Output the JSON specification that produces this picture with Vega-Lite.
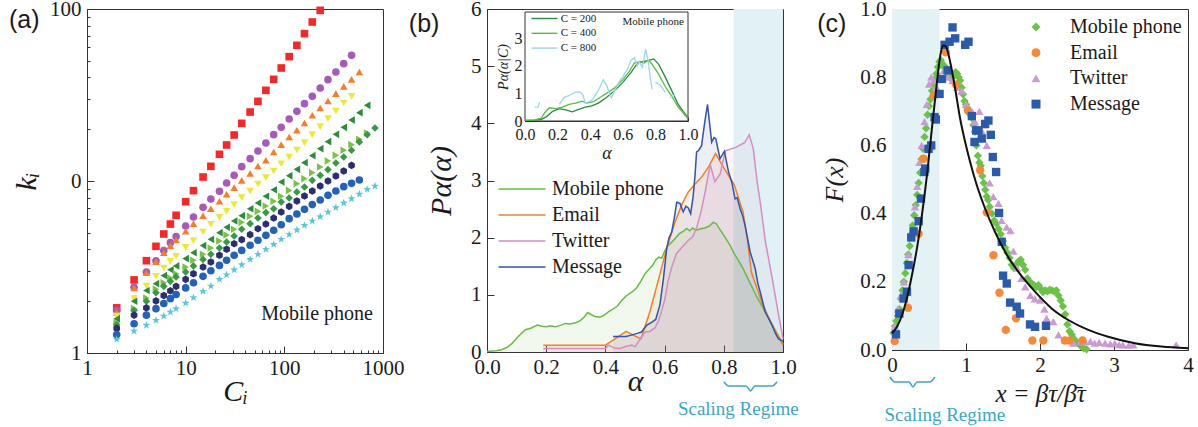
{
"$schema": "https://vega.github.io/schema/vega-lite/v6.json",
"background": "white",
"padding": {"left": 8, "top": -3, "right": 0, "bottom": 0},
"bounds": "flush",
"spacing": 104,
"config": {
  "font": "Liberation Serif",
  "view": {"stroke": "#333", "strokeWidth": 1},
  "axis": {"grid": false, "domainColor": "#333", "tickColor": "#333", "tickSize": -7, "labelFont": "Liberation Serif", "labelFontSize": 21, "labelColor": "#1a1a1a", "labelFlush": false, "labelOverlap": false, "titleFont": "Liberation Serif", "titleFontStyle": "italic", "titleFontWeight": "normal", "titleFontSize": 30, "titleColor": "#1a1a1a", "labelPadding": 11},
  "legend": {"labelFont": "Liberation Serif", "labelColor": "#1a1a1a"},
  "text": {"font": "Liberation Serif", "color": "#1a1a1a"}
},
"datasets": {
  "awide": [
    {"C":2,"s1":1.83,"s2":1.77,"s3":1.72,"s4":1.64,"s5":1.58,"s6":1.5,"s7":1.46,"s8":1.39,"s9":1.28,"s10":1.2},
    {"C":3,"s1":2.66,"s2":2.41,"s3":2.39,"s4":2.07,"s5":2.0,"s6":1.81,"s7":1.77,"s8":1.66,"s9":1.48,"s10":1.34},
    {"C":4,"s1":3.44,"s2":2.96,"s3":2.93,"s4":2.45,"s5":2.31,"s6":2.09,"s7":2.0,"s8":1.83,"s9":1.66,"s10":1.45},
    {"C":5,"s1":4.17,"s2":3.44,"s3":3.4,"s4":2.79,"s5":2.53,"s6":2.35,"s7":2.24,"s8":2.01,"s9":1.81,"s10":1.55},
    {"C":6,"s1":4.92,"s2":3.94,"s3":3.83,"s4":3.12,"s5":2.82,"s6":2.56,"s7":2.44,"s8":2.16,"s9":1.94,"s10":1.64},
    {"C":7,"s1":5.62,"s2":4.38,"s3":4.21,"s4":3.41,"s5":3.05,"s6":2.73,"s7":2.61,"s8":2.3,"s9":2.07,"s10":1.73},
    {"C":8,"s1":6.32,"s2":4.75,"s3":4.54,"s4":3.65,"s5":3.21,"s6":2.89,"s7":2.77,"s8":2.44,"s9":2.19,"s10":1.81},
    {"C":10,"s1":7.58,"s2":5.47,"s3":5.1,"s4":4.11,"s5":3.54,"s6":3.16,"s7":2.96,"s8":2.68,"s9":2.39,"s10":1.95},
    {"C":12,"s1":8.79,"s2":6.18,"s3":5.65,"s4":4.5,"s5":3.83,"s6":3.46,"s7":3.21,"s8":2.89,"s9":2.56,"s10":2.1},
    {"C":15,"s1":10.55,"s2":7.03,"s3":6.29,"s4":5.05,"s5":4.21,"s6":3.75,"s7":3.5,"s8":3.16,"s9":2.79,"s10":2.28},
    {"C":18,"s1":12.17,"s2":7.86,"s3":6.9,"s4":5.6,"s5":4.58,"s6":4.08,"s7":3.75,"s8":3.38,"s9":3.01,"s10":2.45},
    {"C":22,"s1":14.29,"s2":8.71,"s3":7.62,"s4":6.15,"s5":5.01,"s6":4.48,"s7":4.08,"s8":3.7,"s9":3.23,"s10":2.68},
    {"C":26,"s1":16.19,"s2":9.74,"s3":8.37,"s4":6.66,"s5":5.38,"s6":4.85,"s7":4.42,"s8":4.01,"s9":3.46,"s10":2.85},
    {"C":31,"s1":18.51,"s2":10.79,"s3":9.15,"s4":7.29,"s5":5.85,"s6":5.24,"s7":4.79,"s8":4.32,"s9":3.7,"s10":3.05},
    {"C":37,"s1":21.64,"s2":12.12,"s3":10.09,"s4":8.0,"s5":6.29,"s6":5.75,"s7":5.24,"s8":4.56,"s9":3.95,"s10":3.26},
    {"C":45,"s1":25.18,"s2":13.49,"s3":11.08,"s4":8.75,"s5":6.9,"s6":6.23,"s7":5.65,"s8":4.88,"s9":4.23,"s10":3.5},
    {"C":54,"s1":29.05,"s2":14.94,"s3":12.23,"s4":9.61,"s5":7.45,"s6":6.66,"s7":6.09,"s8":5.28,"s9":4.52,"s10":3.75},
    {"C":65,"s1":33.66,"s2":16.63,"s3":13.19,"s4":10.46,"s5":8.15,"s6":7.16,"s7":6.55,"s8":5.62,"s9":4.83,"s10":4.01},
    {"C":78,"s1":39.0,"s2":18.6,"s3":14.75,"s4":11.43,"s5":8.9,"s6":7.62,"s7":6.9,"s8":6.09,"s9":5.17,"s10":4.28},
    {"C":93,"s1":45.39,"s2":20.51,"s3":16.27,"s4":12.61,"s5":9.87,"s6":8.15,"s7":7.55,"s8":6.6,"s9":5.57,"s10":4.58},
    {"C":112,"s1":52.84,"s2":22.94,"s3":18.03,"s4":13.79,"s5":10.74,"s6":8.82,"s7":7.96,"s8":7.12,"s9":6.04,"s10":4.88},
    {"C":134,"s1":61.5,"s2":25.41,"s3":19.71,"s4":15.14,"s5":11.69,"s6":9.65,"s7":8.63,"s8":7.65,"s9":6.43,"s10":5.19},
    {"C":160,"s1":71.89,"s2":28.16,"s3":21.74,"s4":16.71,"s5":12.78,"s6":10.32,"s7":9.23,"s8":8.18,"s9":6.84,"s10":5.52},
    {"C":192,"s1":84.03,"s2":31.06,"s3":24.09,"s4":18.6,"s5":14.04,"s6":11.18,"s7":10.09,"s8":8.75,"s9":7.29,"s10":5.85},
    {"C":231,"s1":98.2,"s2":34.73,"s3":26.57,"s4":20.7,"s5":15.42,"s6":12.06,"s7":10.79,"s8":9.35,"s9":7.75,"s10":6.2},
    {"C":277,"s2":38.83,"s3":29.18,"s4":23.04,"s5":16.93,"s6":13.07,"s7":11.64,"s8":10.0,"s9":8.25,"s10":6.6},
    {"C":333,"s2":43.03,"s3":32.2,"s4":25.53,"s5":18.67,"s6":14.1,"s7":12.73,"s8":10.69,"s9":8.75,"s10":7.0},
    {"C":400,"s2":48.11,"s3":35.51,"s4":28.41,"s5":20.51,"s6":15.08,"s7":13.79,"s8":11.43,"s9":9.27,"s10":7.45},
    {"C":480,"s2":53.78,"s3":39.0,"s4":31.06,"s5":22.63,"s6":16.27,"s7":15.08,"s8":12.33,"s9":9.69,"s10":7.89},
    {"C":576,"s3":43.03,"s5":24.96,"s6":17.47,"s7":16.86,"s9":10.13,"s10":8.4},
    {"C":691,"s5":27.54,"s6":19.02,"s7":18.6,"s10":8.94},
    {"C":829,"s7":20.33,"s10":9.35}
  ],
  "bmain": [
    {"n":"Mobile phone","a":0,"p":0.01},{"n":"Mobile phone","a":0.03,"p":0.02},{"n":"Mobile phone","a":0.05,"p":0.04},{"n":"Mobile phone","a":0.07,"p":0.09},{"n":"Mobile phone","a":0.085,"p":0.15},{"n":"Mobile phone","a":0.1,"p":0.24},{"n":"Mobile phone","a":0.115,"p":0.32},{"n":"Mobile phone","a":0.13,"p":0.39},{"n":"Mobile phone","a":0.15,"p":0.42},{"n":"Mobile phone","a":0.17,"p":0.47},{"n":"Mobile phone","a":0.185,"p":0.45},{"n":"Mobile phone","a":0.2,"p":0.44},{"n":"Mobile phone","a":0.215,"p":0.46},{"n":"Mobile phone","a":0.23,"p":0.44},{"n":"Mobile phone","a":0.25,"p":0.47},{"n":"Mobile phone","a":0.265,"p":0.5},{"n":"Mobile phone","a":0.28,"p":0.49},{"n":"Mobile phone","a":0.3,"p":0.51},{"n":"Mobile phone","a":0.315,"p":0.55},{"n":"Mobile phone","a":0.33,"p":0.62},{"n":"Mobile phone","a":0.34,"p":0.69},{"n":"Mobile phone","a":0.35,"p":0.66},{"n":"Mobile phone","a":0.365,"p":0.62},{"n":"Mobile phone","a":0.38,"p":0.61},{"n":"Mobile phone","a":0.395,"p":0.64},{"n":"Mobile phone","a":0.41,"p":0.7},{"n":"Mobile phone","a":0.425,"p":0.75},{"n":"Mobile phone","a":0.44,"p":0.8},{"n":"Mobile phone","a":0.455,"p":0.9},{"n":"Mobile phone","a":0.47,"p":0.98},{"n":"Mobile phone","a":0.49,"p":1.05},{"n":"Mobile phone","a":0.505,"p":1.12},{"n":"Mobile phone","a":0.52,"p":1.24},{"n":"Mobile phone","a":0.535,"p":1.38},{"n":"Mobile phone","a":0.55,"p":1.46},{"n":"Mobile phone","a":0.56,"p":1.52},{"n":"Mobile phone","a":0.57,"p":1.61},{"n":"Mobile phone","a":0.58,"p":1.66},{"n":"Mobile phone","a":0.59,"p":1.64},{"n":"Mobile phone","a":0.6,"p":1.76},{"n":"Mobile phone","a":0.61,"p":1.85},{"n":"Mobile phone","a":0.62,"p":1.9},{"n":"Mobile phone","a":0.635,"p":1.98},{"n":"Mobile phone","a":0.65,"p":2.07},{"n":"Mobile phone","a":0.665,"p":2.12},{"n":"Mobile phone","a":0.675,"p":2.16},{"n":"Mobile phone","a":0.685,"p":2.12},{"n":"Mobile phone","a":0.695,"p":2.17},{"n":"Mobile phone","a":0.705,"p":2.13},{"n":"Mobile phone","a":0.72,"p":2.15},{"n":"Mobile phone","a":0.735,"p":2.17},{"n":"Mobile phone","a":0.75,"p":2.2},{"n":"Mobile phone","a":0.765,"p":2.27},{"n":"Mobile phone","a":0.775,"p":2.24},{"n":"Mobile phone","a":0.79,"p":2.12},{"n":"Mobile phone","a":0.805,"p":2.0},{"n":"Mobile phone","a":0.82,"p":1.88},{"n":"Mobile phone","a":0.835,"p":1.72},{"n":"Mobile phone","a":0.85,"p":1.6},{"n":"Mobile phone","a":0.865,"p":1.46},{"n":"Mobile phone","a":0.88,"p":1.3},{"n":"Mobile phone","a":0.895,"p":1.14},{"n":"Mobile phone","a":0.91,"p":0.98},{"n":"Mobile phone","a":0.925,"p":0.84},{"n":"Mobile phone","a":0.94,"p":0.7},{"n":"Mobile phone","a":0.955,"p":0.56},{"n":"Mobile phone","a":0.97,"p":0.42},{"n":"Mobile phone","a":0.985,"p":0.28},{"n":"Mobile phone","a":1.0,"p":0.14},
    {"n":"Email","a":0.19,"p":0.12},{"n":"Email","a":0.4,"p":0.12},{"n":"Email","a":0.43,"p":0.22},{"n":"Email","a":0.47,"p":0.36},{"n":"Email","a":0.5,"p":0.28},{"n":"Email","a":0.52,"p":0.23},{"n":"Email","a":0.55,"p":0.7},{"n":"Email","a":0.58,"p":1.28},{"n":"Email","a":0.607,"p":1.81},{"n":"Email","a":0.635,"p":2.27},{"n":"Email","a":0.66,"p":2.6},{"n":"Email","a":0.68,"p":2.8},{"n":"Email","a":0.7,"p":2.92},{"n":"Email","a":0.725,"p":3.06},{"n":"Email","a":0.75,"p":3.25},{"n":"Email","a":0.772,"p":3.47},{"n":"Email","a":0.8,"p":3.22},{"n":"Email","a":0.835,"p":2.93},{"n":"Email","a":0.865,"p":2.45},{"n":"Email","a":0.88,"p":1.95},{"n":"Email","a":0.893,"p":1.4},{"n":"Email","a":0.93,"p":0.85},{"n":"Email","a":0.963,"p":0.47},{"n":"Email","a":1.0,"p":0.12},
    {"n":"Twitter","a":0.19,"p":0.06},{"n":"Twitter","a":0.4,"p":0.06},{"n":"Twitter","a":0.41,"p":0.12},{"n":"Twitter","a":0.43,"p":0.07},{"n":"Twitter","a":0.45,"p":0.06},{"n":"Twitter","a":0.47,"p":0.1},{"n":"Twitter","a":0.49,"p":0.12},{"n":"Twitter","a":0.5,"p":0.09},{"n":"Twitter","a":0.52,"p":0.25},{"n":"Twitter","a":0.535,"p":0.35},{"n":"Twitter","a":0.55,"p":0.36},{"n":"Twitter","a":0.567,"p":0.42},{"n":"Twitter","a":0.58,"p":0.55},{"n":"Twitter","a":0.59,"p":0.72},{"n":"Twitter","a":0.6,"p":0.9},{"n":"Twitter","a":0.612,"p":1.25},{"n":"Twitter","a":0.625,"p":1.5},{"n":"Twitter","a":0.64,"p":1.72},{"n":"Twitter","a":0.66,"p":1.84},{"n":"Twitter","a":0.68,"p":1.95},{"n":"Twitter","a":0.695,"p":2.02},{"n":"Twitter","a":0.71,"p":2.2},{"n":"Twitter","a":0.725,"p":2.5},{"n":"Twitter","a":0.737,"p":2.8},{"n":"Twitter","a":0.754,"p":3.28},{"n":"Twitter","a":0.77,"p":2.98},{"n":"Twitter","a":0.788,"p":3.12},{"n":"Twitter","a":0.805,"p":3.52},{"n":"Twitter","a":0.84,"p":3.58},{"n":"Twitter","a":0.87,"p":3.66},{"n":"Twitter","a":0.886,"p":3.8},{"n":"Twitter","a":0.9,"p":3.55},{"n":"Twitter","a":0.912,"p":3.0},{"n":"Twitter","a":0.925,"p":2.55},{"n":"Twitter","a":0.94,"p":1.95},{"n":"Twitter","a":0.963,"p":1.3},{"n":"Twitter","a":0.985,"p":0.65},{"n":"Twitter","a":1.0,"p":0.23},
    {"n":"Message","a":0.426,"p":0.27},{"n":"Message","a":0.45,"p":0.27},{"n":"Message","a":0.47,"p":0.27},{"n":"Message","a":0.49,"p":0.3},{"n":"Message","a":0.51,"p":0.33},{"n":"Message","a":0.522,"p":0.35},{"n":"Message","a":0.54,"p":0.47},{"n":"Message","a":0.556,"p":0.52},{"n":"Message","a":0.57,"p":0.57},{"n":"Message","a":0.584,"p":0.82},{"n":"Message","a":0.596,"p":1.28},{"n":"Message","a":0.607,"p":1.81},{"n":"Message","a":0.615,"p":2.0},{"n":"Message","a":0.624,"p":2.1},{"n":"Message","a":0.633,"p":2.35},{"n":"Message","a":0.641,"p":2.62},{"n":"Message","a":0.652,"p":2.6},{"n":"Message","a":0.663,"p":2.45},{"n":"Message","a":0.672,"p":2.55},{"n":"Message","a":0.68,"p":2.52},{"n":"Message","a":0.688,"p":2.42},{"n":"Message","a":0.696,"p":2.7},{"n":"Message","a":0.703,"p":3.1},{"n":"Message","a":0.708,"p":3.5},{"n":"Message","a":0.714,"p":3.52},{"n":"Message","a":0.725,"p":3.61},{"n":"Message","a":0.735,"p":4.0},{"n":"Message","a":0.745,"p":4.33},{"n":"Message","a":0.752,"p":4.0},{"n":"Message","a":0.759,"p":3.67},{"n":"Message","a":0.767,"p":3.75},{"n":"Message","a":0.773,"p":3.73},{"n":"Message","a":0.787,"p":3.38},{"n":"Message","a":0.802,"p":3.51},{"n":"Message","a":0.816,"p":3.15},{"n":"Message","a":0.827,"p":2.97},{"n":"Message","a":0.838,"p":2.68},{"n":"Message","a":0.845,"p":2.7},{"n":"Message","a":0.855,"p":2.51},{"n":"Message","a":0.864,"p":2.38},{"n":"Message","a":0.872,"p":2.21},{"n":"Message","a":0.889,"p":1.75},{"n":"Message","a":0.906,"p":1.46},{"n":"Message","a":0.915,"p":1.2},{"n":"Message","a":0.923,"p":1.05},{"n":"Message","a":0.94,"p":0.7},{"n":"Message","a":0.963,"p":0.47},{"n":"Message","a":0.975,"p":0.32},{"n":"Message","a":0.985,"p":0.23},{"n":"Message","a":1.0,"p":0.19}
  ],
  "binset": [
    {"C":"C = 200","seg":"a","a":0,"p":0.02},{"C":"C = 200","seg":"a","a":0.06,"p":0.03},{"C":"C = 200","seg":"a","a":0.1,"p":0.06},{"C":"C = 200","seg":"a","a":0.13,"p":0.15},{"C":"C = 200","seg":"a","a":0.17,"p":0.35},{"C":"C = 200","seg":"a","a":0.21,"p":0.45},{"C":"C = 200","seg":"a","a":0.25,"p":0.4},{"C":"C = 200","seg":"a","a":0.29,"p":0.33},{"C":"C = 200","seg":"a","a":0.33,"p":0.42},{"C":"C = 200","seg":"a","a":0.37,"p":0.5},{"C":"C = 200","seg":"a","a":0.41,"p":0.55},{"C":"C = 200","seg":"a","a":0.45,"p":0.65},{"C":"C = 200","seg":"a","a":0.5,"p":0.85},{"C":"C = 200","seg":"a","a":0.55,"p":1.1},{"C":"C = 200","seg":"a","a":0.6,"p":1.4},{"C":"C = 200","seg":"a","a":0.65,"p":1.75},{"C":"C = 200","seg":"a","a":0.69,"p":2.1},{"C":"C = 200","seg":"a","a":0.72,"p":2.15},{"C":"C = 200","seg":"a","a":0.76,"p":2.2},{"C":"C = 200","seg":"a","a":0.79,"p":2.25},{"C":"C = 200","seg":"a","a":0.82,"p":2.05},{"C":"C = 200","seg":"a","a":0.86,"p":1.6},{"C":"C = 200","seg":"a","a":0.9,"p":1.1},{"C":"C = 200","seg":"a","a":0.94,"p":0.6},{"C":"C = 200","seg":"a","a":0.97,"p":0.35},{"C":"C = 200","seg":"a","a":1.0,"p":0.12},
    {"C":"C = 400","seg":"a","a":0,"p":0.02},{"C":"C = 400","seg":"a","a":0.06,"p":0.04},{"C":"C = 400","seg":"a","a":0.1,"p":0.1},{"C":"C = 400","seg":"a","a":0.12,"p":0.3},{"C":"C = 400","seg":"a","a":0.15,"p":0.48},{"C":"C = 400","seg":"a","a":0.19,"p":0.45},{"C":"C = 400","seg":"a","a":0.23,"p":0.5},{"C":"C = 400","seg":"a","a":0.27,"p":0.6},{"C":"C = 400","seg":"a","a":0.31,"p":0.65},{"C":"C = 400","seg":"a","a":0.35,"p":0.72},{"C":"C = 400","seg":"a","a":0.38,"p":0.65},{"C":"C = 400","seg":"a","a":0.42,"p":0.7},{"C":"C = 400","seg":"a","a":0.46,"p":0.85},{"C":"C = 400","seg":"a","a":0.5,"p":1.0},{"C":"C = 400","seg":"a","a":0.55,"p":1.2},{"C":"C = 400","seg":"a","a":0.6,"p":1.5},{"C":"C = 400","seg":"a","a":0.64,"p":1.8},{"C":"C = 400","seg":"a","a":0.67,"p":2.1},{"C":"C = 400","seg":"a","a":0.7,"p":2.15},{"C":"C = 400","seg":"a","a":0.73,"p":2.1},{"C":"C = 400","seg":"a","a":0.76,"p":2.2},{"C":"C = 400","seg":"a","a":0.78,"p":2.05},{"C":"C = 400","seg":"a","a":0.82,"p":1.7},{"C":"C = 400","seg":"a","a":0.86,"p":1.25},{"C":"C = 400","seg":"a","a":0.9,"p":0.9},{"C":"C = 400","seg":"a","a":0.94,"p":0.5},{"C":"C = 400","seg":"a","a":0.97,"p":0.3},{"C":"C = 400","seg":"a","a":1.0,"p":0.08},
    {"C":"C = 800","seg":"a","a":0.06,"p":0.5},{"C":"C = 800","seg":"a","a":0.08,"p":0.5},{"C":"C = 800","seg":"a","a":0.09,"p":0.68},
    {"C":"C = 800","seg":"b","a":0.21,"p":0.6},{"C":"C = 800","seg":"b","a":0.24,"p":0.85},{"C":"C = 800","seg":"b","a":0.28,"p":0.95},{"C":"C = 800","seg":"b","a":0.31,"p":1.05},{"C":"C = 800","seg":"b","a":0.34,"p":1.05},{"C":"C = 800","seg":"b","a":0.355,"p":0.95},{"C":"C = 800","seg":"b","a":0.37,"p":0.65},{"C":"C = 800","seg":"b","a":0.41,"p":0.75},{"C":"C = 800","seg":"b","a":0.45,"p":1.1},{"C":"C = 800","seg":"b","a":0.48,"p":1.5},{"C":"C = 800","seg":"b","a":0.5,"p":1.3},{"C":"C = 800","seg":"b","a":0.52,"p":0.95},{"C":"C = 800","seg":"b","a":0.53,"p":0.85},{"C":"C = 800","seg":"b","a":0.55,"p":1.1},{"C":"C = 800","seg":"b","a":0.58,"p":1.45},{"C":"C = 800","seg":"b","a":0.6,"p":1.6},{"C":"C = 800","seg":"b","a":0.63,"p":1.9},{"C":"C = 800","seg":"b","a":0.65,"p":2.2},{"C":"C = 800","seg":"b","a":0.67,"p":2.3},{"C":"C = 800","seg":"b","a":0.69,"p":2.0},{"C":"C = 800","seg":"b","a":0.7,"p":2.15},{"C":"C = 800","seg":"b","a":0.72,"p":1.95},{"C":"C = 800","seg":"b","a":0.74,"p":2.6},{"C":"C = 800","seg":"b","a":0.755,"p":2.2},{"C":"C = 800","seg":"b","a":0.77,"p":1.5},{"C":"C = 800","seg":"b","a":0.78,"p":1.15},
    {"C":"C = 800","seg":"c","a":0.8,"p":1.4},{"C":"C = 800","seg":"c","a":0.83,"p":1.3},{"C":"C = 800","seg":"c","a":0.86,"p":1.05},
    {"C":"C = 800","seg":"d","a":0.89,"p":0.85},{"C":"C = 800","seg":"d","a":0.92,"p":0.95}
  ],
  "braceb": [{"a":0.8,"p":-0.52},{"a":0.817,"p":-0.594},{"a":0.875,"p":-0.594},{"a":0.89,"p":-0.68},{"a":0.905,"p":-0.594},{"a":0.963,"p":-0.594},{"a":0.98,"p":-0.52}],
  "bracec": [{"x":-0.027,"y":-0.079},{"x":0.04,"y":-0.094},{"x":0.23,"y":-0.094},{"x":0.283,"y":-0.108},{"x":0.337,"y":-0.094},{"x":0.51,"y":-0.094},{"x":0.58,"y":-0.079}],
  "ccurve": [{"x":0,"y":0.049},{"x":0.067,"y":0.068},{"x":0.135,"y":0.102},{"x":0.2,"y":0.15},{"x":0.27,"y":0.22},{"x":0.337,"y":0.298},{"x":0.404,"y":0.395},{"x":0.472,"y":0.512},{"x":0.539,"y":0.649},{"x":0.607,"y":0.785},{"x":0.64,"y":0.845},{"x":0.665,"y":0.878},{"x":0.697,"y":0.893},{"x":0.72,"y":0.892},{"x":0.742,"y":0.883},{"x":0.787,"y":0.844},{"x":0.854,"y":0.766},{"x":0.921,"y":0.678},{"x":0.989,"y":0.61},{"x":1.056,"y":0.551},{"x":1.146,"y":0.483},{"x":1.258,"y":0.415},{"x":1.393,"y":0.346},{"x":1.528,"y":0.288},{"x":1.708,"y":0.229},{"x":1.933,"y":0.171},{"x":2.157,"y":0.122},{"x":2.382,"y":0.088},{"x":2.652,"y":0.059},{"x":2.921,"y":0.039},{"x":3.281,"y":0.02},{"x":3.64,"y":0.01},{"x":4.0,"y":0.005}],
  "cpts": [
    {"d":"Mobile phone","x":0.02,"y":0.05},{"d":"Mobile phone","x":0.04,"y":0.07},{"d":"Mobile phone","x":0.06,"y":0.085},{"d":"Mobile phone","x":0.08,"y":0.1},{"d":"Mobile phone","x":0.1,"y":0.12},{"d":"Mobile phone","x":0.12,"y":0.15},{"d":"Mobile phone","x":0.14,"y":0.175},{"d":"Mobile phone","x":0.16,"y":0.2},{"d":"Mobile phone","x":0.18,"y":0.225},{"d":"Mobile phone","x":0.2,"y":0.255},{"d":"Mobile phone","x":0.22,"y":0.28},{"d":"Mobile phone","x":0.24,"y":0.305},{"d":"Mobile phone","x":0.26,"y":0.335},{"d":"Mobile phone","x":0.28,"y":0.365},{"d":"Mobile phone","x":0.3,"y":0.395},{"d":"Mobile phone","x":0.32,"y":0.425},{"d":"Mobile phone","x":0.34,"y":0.455},{"d":"Mobile phone","x":0.36,"y":0.49},{"d":"Mobile phone","x":0.38,"y":0.52},{"d":"Mobile phone","x":0.4,"y":0.56},{"d":"Mobile phone","x":0.42,"y":0.59},{"d":"Mobile phone","x":0.44,"y":0.625},{"d":"Mobile phone","x":0.46,"y":0.65},{"d":"Mobile phone","x":0.48,"y":0.69},{"d":"Mobile phone","x":0.5,"y":0.715},{"d":"Mobile phone","x":0.52,"y":0.735},{"d":"Mobile phone","x":0.54,"y":0.76},{"d":"Mobile phone","x":0.56,"y":0.78},{"d":"Mobile phone","x":0.58,"y":0.795},{"d":"Mobile phone","x":0.6,"y":0.81},{"d":"Mobile phone","x":0.62,"y":0.83},{"d":"Mobile phone","x":0.64,"y":0.845},{"d":"Mobile phone","x":0.66,"y":0.85},{"d":"Mobile phone","x":0.68,"y":0.84},{"d":"Mobile phone","x":0.7,"y":0.83},{"d":"Mobile phone","x":0.72,"y":0.83},{"d":"Mobile phone","x":0.74,"y":0.82},{"d":"Mobile phone","x":0.76,"y":0.81},{"d":"Mobile phone","x":0.78,"y":0.8},{"d":"Mobile phone","x":0.8,"y":0.795},{"d":"Mobile phone","x":0.82,"y":0.8},{"d":"Mobile phone","x":0.84,"y":0.81},{"d":"Mobile phone","x":0.86,"y":0.815},{"d":"Mobile phone","x":0.88,"y":0.81},{"d":"Mobile phone","x":0.9,"y":0.8},{"d":"Mobile phone","x":0.92,"y":0.79},{"d":"Mobile phone","x":0.94,"y":0.77},{"d":"Mobile phone","x":0.96,"y":0.75},{"d":"Mobile phone","x":0.98,"y":0.73},{"d":"Mobile phone","x":1.0,"y":0.72},{"d":"Mobile phone","x":1.02,"y":0.71},{"d":"Mobile phone","x":1.04,"y":0.7},{"d":"Mobile phone","x":1.06,"y":0.69},{"d":"Mobile phone","x":1.08,"y":0.68},{"d":"Mobile phone","x":1.1,"y":0.66},{"d":"Mobile phone","x":1.12,"y":0.64},{"d":"Mobile phone","x":1.14,"y":0.6},{"d":"Mobile phone","x":1.16,"y":0.57},{"d":"Mobile phone","x":1.18,"y":0.55},{"d":"Mobile phone","x":1.2,"y":0.54},{"d":"Mobile phone","x":1.22,"y":0.51},{"d":"Mobile phone","x":1.24,"y":0.49},{"d":"Mobile phone","x":1.26,"y":0.47},{"d":"Mobile phone","x":1.28,"y":0.45},{"d":"Mobile phone","x":1.3,"y":0.44},{"d":"Mobile phone","x":1.32,"y":0.42},{"d":"Mobile phone","x":1.35,"y":0.4},{"d":"Mobile phone","x":1.38,"y":0.38},{"d":"Mobile phone","x":1.41,"y":0.37},{"d":"Mobile phone","x":1.44,"y":0.355},{"d":"Mobile phone","x":1.47,"y":0.34},{"d":"Mobile phone","x":1.5,"y":0.32},{"d":"Mobile phone","x":1.53,"y":0.3},{"d":"Mobile phone","x":1.56,"y":0.285},{"d":"Mobile phone","x":1.59,"y":0.27},{"d":"Mobile phone","x":1.62,"y":0.25},{"d":"Mobile phone","x":1.65,"y":0.24},{"d":"Mobile phone","x":1.68,"y":0.25},{"d":"Mobile phone","x":1.71,"y":0.26},{"d":"Mobile phone","x":1.74,"y":0.265},{"d":"Mobile phone","x":1.77,"y":0.25},{"d":"Mobile phone","x":1.8,"y":0.235},{"d":"Mobile phone","x":1.83,"y":0.21},{"d":"Mobile phone","x":1.86,"y":0.2},{"d":"Mobile phone","x":1.89,"y":0.195},{"d":"Mobile phone","x":1.92,"y":0.19},{"d":"Mobile phone","x":1.95,"y":0.185},{"d":"Mobile phone","x":1.98,"y":0.19},{"d":"Mobile phone","x":2.01,"y":0.18},{"d":"Mobile phone","x":2.04,"y":0.17},{"d":"Mobile phone","x":2.07,"y":0.175},{"d":"Mobile phone","x":2.1,"y":0.172},{"d":"Mobile phone","x":2.13,"y":0.176},{"d":"Mobile phone","x":2.16,"y":0.175},{"d":"Mobile phone","x":2.19,"y":0.172},{"d":"Mobile phone","x":2.22,"y":0.175},{"d":"Mobile phone","x":2.25,"y":0.16},{"d":"Mobile phone","x":2.28,"y":0.145},{"d":"Mobile phone","x":2.31,"y":0.128},{"d":"Mobile phone","x":2.34,"y":0.105},{"d":"Mobile phone","x":2.37,"y":0.075},{"d":"Mobile phone","x":2.4,"y":0.055},{"d":"Mobile phone","x":2.43,"y":0.045},{"d":"Mobile phone","x":2.47,"y":0.03},{"d":"Mobile phone","x":2.51,"y":0.02},{"d":"Mobile phone","x":2.55,"y":0.012},{"d":"Mobile phone","x":2.59,"y":0.005},{"d":"Mobile phone","x":2.63,"y":0.002},
    {"d":"Twitter","x":0.04,"y":0.07},{"d":"Twitter","x":0.08,"y":0.12},{"d":"Twitter","x":0.12,"y":0.16},{"d":"Twitter","x":0.16,"y":0.2},{"d":"Twitter","x":0.22,"y":0.28},{"d":"Twitter","x":0.27,"y":0.35},{"d":"Twitter","x":0.31,"y":0.42},{"d":"Twitter","x":0.34,"y":0.48},{"d":"Twitter","x":0.37,"y":0.55},{"d":"Twitter","x":0.4,"y":0.6},{"d":"Twitter","x":0.44,"y":0.67},{"d":"Twitter","x":0.47,"y":0.72},{"d":"Twitter","x":0.5,"y":0.78},{"d":"Twitter","x":0.53,"y":0.8},{"d":"Twitter","x":0.56,"y":0.79},{"d":"Twitter","x":0.6,"y":0.77},{"d":"Twitter","x":0.64,"y":0.8},{"d":"Twitter","x":0.7,"y":0.82},{"d":"Twitter","x":0.76,"y":0.8},{"d":"Twitter","x":0.82,"y":0.79},{"d":"Twitter","x":0.88,"y":0.77},{"d":"Twitter","x":0.94,"y":0.76},{"d":"Twitter","x":1.0,"y":0.72},{"d":"Twitter","x":1.08,"y":0.7},{"d":"Twitter","x":1.12,"y":0.67},{"d":"Twitter","x":1.18,"y":0.7},{"d":"Twitter","x":1.22,"y":0.64},{"d":"Twitter","x":1.25,"y":0.66},{"d":"Twitter","x":1.28,"y":0.6},{"d":"Twitter","x":1.32,"y":0.49},{"d":"Twitter","x":1.37,"y":0.45},{"d":"Twitter","x":1.44,"y":0.43},{"d":"Twitter","x":1.48,"y":0.38},{"d":"Twitter","x":1.55,"y":0.36},{"d":"Twitter","x":1.6,"y":0.35},{"d":"Twitter","x":1.64,"y":0.29},{"d":"Twitter","x":1.69,"y":0.24},{"d":"Twitter","x":1.75,"y":0.21},{"d":"Twitter","x":1.8,"y":0.185},{"d":"Twitter","x":1.87,"y":0.16},{"d":"Twitter","x":1.93,"y":0.15},{"d":"Twitter","x":2.0,"y":0.146},{"d":"Twitter","x":2.06,"y":0.12},{"d":"Twitter","x":2.09,"y":0.093},{"d":"Twitter","x":2.18,"y":0.083},{"d":"Twitter","x":2.25,"y":0.044},{"d":"Twitter","x":2.34,"y":0.029},{"d":"Twitter","x":2.45,"y":0.02},{"d":"Twitter","x":2.55,"y":0.025},{"d":"Twitter","x":2.61,"y":0.024},{"d":"Twitter","x":2.68,"y":0.025},{"d":"Twitter","x":2.74,"y":0.02},{"d":"Twitter","x":2.8,"y":0.022},{"d":"Twitter","x":2.88,"y":0.02},{"d":"Twitter","x":2.95,"y":0.018},{"d":"Twitter","x":3.01,"y":0.02},{"d":"Twitter","x":3.07,"y":0.016},{"d":"Twitter","x":3.12,"y":0.015},{"d":"Twitter","x":3.2,"y":0.014},{"d":"Twitter","x":3.26,"y":0.015},{"d":"Twitter","x":3.84,"y":0.015},
    {"d":"Email","x":0.036,"y":0.026},{"d":"Email","x":0.216,"y":0.124},{"d":"Email","x":0.36,"y":0.341},{"d":"Email","x":0.427,"y":0.561},{"d":"Email","x":0.562,"y":0.746},{"d":"Email","x":0.728,"y":0.873},{"d":"Email","x":0.867,"y":0.778},{"d":"Email","x":1.025,"y":0.702},{"d":"Email","x":1.191,"y":0.527},{"d":"Email","x":1.281,"y":0.403},{"d":"Email","x":1.371,"y":0.278},{"d":"Email","x":1.452,"y":0.168},{"d":"Email","x":1.537,"y":0.059},{"d":"Email","x":1.676,"y":0.093},{"d":"Email","x":1.897,"y":0.028},{"d":"Email","x":2.045,"y":0.028},{"d":"Email","x":2.337,"y":0.028},{"d":"Email","x":2.4,"y":0.028},{"d":"Email","x":2.575,"y":0.028},
    {"d":"Message","x":0.054,"y":0.046},{"d":"Message","x":0.099,"y":0.107},{"d":"Message","x":0.157,"y":0.151},{"d":"Message","x":0.202,"y":0.171},{"d":"Message","x":0.225,"y":0.249},{"d":"Message","x":0.26,"y":0.33},{"d":"Message","x":0.292,"y":0.348},{"d":"Message","x":0.36,"y":0.378},{"d":"Message","x":0.391,"y":0.444},{"d":"Message","x":0.438,"y":0.522},{"d":"Message","x":0.449,"y":0.532},{"d":"Message","x":0.494,"y":0.59},{"d":"Message","x":0.53,"y":0.6},{"d":"Message","x":0.575,"y":0.683},{"d":"Message","x":0.593,"y":0.676},{"d":"Message","x":0.643,"y":0.751},{"d":"Message","x":0.674,"y":0.795},{"d":"Message","x":0.711,"y":0.895},{"d":"Message","x":0.751,"y":0.82},{"d":"Message","x":0.778,"y":0.904},{"d":"Message","x":0.818,"y":0.946},{"d":"Message","x":0.854,"y":0.914},{"d":"Message","x":0.989,"y":0.895},{"d":"Message","x":1.034,"y":0.904},{"d":"Message","x":1.079,"y":0.686},{"d":"Message","x":1.115,"y":0.61},{"d":"Message","x":1.137,"y":0.644},{"d":"Message","x":1.169,"y":0.644},{"d":"Message","x":1.213,"y":0.62},{"d":"Message","x":1.258,"y":0.663},{"d":"Message","x":1.303,"y":0.673},{"d":"Message","x":1.335,"y":0.631},{"d":"Message","x":1.362,"y":0.566},{"d":"Message","x":1.407,"y":0.522},{"d":"Message","x":1.447,"y":0.402},{"d":"Message","x":1.483,"y":0.317},{"d":"Message","x":1.501,"y":0.218},{"d":"Message","x":1.551,"y":0.195},{"d":"Message","x":1.596,"y":0.139},{"d":"Message","x":1.685,"y":0.127},{"d":"Message","x":1.73,"y":0.107},{"d":"Message","x":1.865,"y":0.075},{"d":"Message","x":1.933,"y":0.068},{"d":"Message","x":2.081,"y":0.071}
  ]
},
"resolve": {"scale": {"color": "independent", "shape": "independent"}, "legend": {"color": "independent", "shape": "independent"}},
"hconcat": [
  {
    "width": 296, "height": 344,
    "layer": [
      {
        "data": {"name": "awide"},
        "transform": [{"fold": ["s1","s2","s3","s4","s5","s6","s7","s8","s9","s10"], "as": ["g","k"]}, {"filter": "isValid(datum.k)"}],
        "mark": {"type": "point", "filled": true, "opacity": 1, "size": 58},
        "encoding": {
          "x": {"field": "C", "type": "quantitative", "scale": {"type": "log", "domain": [1, 1000], "nice": false},
                "axis": {"values": [1,2,3,4,5,6,7,8,9,10,20,30,40,50,60,70,80,90,100,200,300,400,500,600,700,800,900,1000],
                         "labelExpr": "(datum.value==1||datum.value==10||datum.value==100||datum.value==1000) ? format(datum.value,'d') : ''",
                         "tickDash": {"condition": {"test": "datum.value==1||datum.value==10||datum.value==100||datum.value==1000", "value": []}, "value": [3, 10]},
                         "title": "Cᵢ", "titlePadding": -2}},
          "y": {"field": "k", "type": "quantitative", "scale": {"type": "log", "domain": [1, 100], "nice": false},
                "axis": {"values": [1,2,3,4,5,6,7,8,9,10,20,30,40,50,60,70,80,90,100],
                         "labelExpr": "datum.value==1 ? '1' : datum.value==10 ? '0' : datum.value==100 ? '100' : ''",
                         "tickDash": {"condition": {"test": "datum.value==1||datum.value==10||datum.value==100", "value": []}, "value": [3, 10]},
                         "title": "kᵢ", "titlePadding": 8, "labelPadding": 13}},
          "color": {"field": "g", "type": "nominal", "legend": null,
                    "scale": {"domain": ["s1","s2","s3","s4","s5","s6","s7","s8","s9","s10"],
                              "range": ["#ee2a2a","#a65bb6","#f57d2c","#ece83a","#2f8a3e","#79c245","#3c9748","#2c2f6e","#2561b4","#5ec5d7"]}},
          "shape": {"field": "g", "type": "nominal", "legend": null,
                    "scale": {"domain": ["s1","s2","s3","s4","s5","s6","s7","s8","s9","s10"],
                              "range": ["square","circle","triangle-up","triangle-down","triangle-left","triangle-right","diamond","M0,-1L0.866,-0.5L0.866,0.5L0,1L-0.866,0.5L-0.866,-0.5Z","circle","M0,-1.1L0.26,-0.36L1.05,-0.34L0.42,0.14L0.65,0.9L0,0.44L-0.65,0.9L-0.42,0.14L-1.05,-0.34L-0.26,-0.36Z"]}}
        }
      },
      {"data": {"values": [{}]}, "mark": {"type": "text", "align": "right", "baseline": "middle", "fontSize": 20},
       "encoding": {"x": {"datum": 790}, "y": {"datum": 1.69}, "text": {"value": "Mobile phone"}}},
      {"data": {"values": [{}]}, "mark": {"type": "text", "align": "left", "baseline": "top", "fontSize": 25, "font": "Liberation Sans"},
       "encoding": {"x": {"datum": 0.162}, "y": {"datum": 102}, "text": {"value": "(a)"}}}
    ]
  },
  {
    "bounds": "flush",
    "spacing": 109,
    "resolve": {"scale": {"color": "independent", "shape": "independent"}, "legend": {"color": "independent", "shape": "independent"}},
    "hconcat": [
      {
        "width": 296, "height": 343,
        "resolve": {"scale": {"x": "independent", "y": "independent", "color": "independent"}, "axis": {"x": "independent", "y": "independent"}, "legend": {"color": "independent"}},
        "layer": [
          {
            "layer": [
              {"data": {"values": [{}]}, "mark": {"type": "rect", "color": "#e2f1f5"},
               "encoding": {
                 "x": {"datum": 0.833, "type": "quantitative", "scale": {"domain": [0, 1], "nice": false, "zero": false},
                       "axis": {"values": [0,0.1,0.2,0.3,0.4,0.5,0.6,0.7,0.8,0.9,1.0],
                                "labelExpr": "(round(datum.value*10) % 2 == 0) ? format(datum.value,'.1f') : ''",
                                "tickDash": {"condition": {"test": "round(datum.value*10) % 2 == 0", "value": []}, "value": [3, 10]},
                                "title": "α", "titlePadding": -11}},
                 "x2": {"datum": 1},
                 "y": {"datum": 0, "type": "quantitative", "scale": {"domain": [0, 6], "nice": false},
                       "axis": {"values": [0,0.5,1,1.5,2,2.5,3,3.5,4,4.5,5,5.5,6],
                                "labelExpr": "(datum.value % 1 == 0) ? format(datum.value,'d') : ''",
                                "tickDash": {"condition": {"test": "datum.value % 1 == 0", "value": []}, "value": [3, 10]},
                                "title": "Pα(α)", "titlePadding": 14, "labelPadding": 13}},
                 "y2": {"datum": 6}}},
              {"data": {"name": "bmain"}, "mark": {"type": "area", "fillOpacity": 0.09},
               "encoding": {
                 "x": {"field": "a", "type": "quantitative"},
                 "y": {"field": "p", "type": "quantitative", "stack": null},
                 "color": {"field": "n", "type": "nominal", "scale": {"domain": ["Mobile phone","Email","Twitter","Message"], "range": ["#66bb46","#f47f26","#d68cc4","#3553a8"]}}}},
              {"data": {"name": "bmain"}, "mark": {"type": "line", "strokeWidth": 1.5},
               "encoding": {
                 "x": {"field": "a", "type": "quantitative"},
                 "y": {"field": "p", "type": "quantitative"},
                 "color": {"field": "n", "type": "nominal",
                           "scale": {"domain": ["Mobile phone","Email","Twitter","Message"], "range": ["#66bb46","#f47f26","#d68cc4","#3553a8"]},
                           "legend": {"orient": "none", "legendX": 25, "legendY": 170, "title": null, "padding": 0,
                                      "symbolType": "M-3,0L3,0", "symbolSize": 245, "symbolStrokeWidth": 1.6, "symbolFillColor": "transparent",
                                      "labelFontSize": 20, "labelOffset": 20, "rowPadding": 6}}}},
              {"data": {"name": "braceb"}, "mark": {"type": "line", "color": "#3ba7c6", "strokeWidth": 1.6, "interpolate": "monotone"},
               "encoding": {"x": {"field": "a", "type": "quantitative"}, "y": {"field": "p", "type": "quantitative"}}},
              {"data": {"values": [{}]}, "mark": {"type": "text", "align": "center", "baseline": "middle", "fontSize": 19, "color": "#3ba7c6"},
               "encoding": {"x": {"datum": 0.849}, "y": {"datum": -0.99}, "text": {"value": "Scaling Regime"}}},
              {"data": {"values": [{}]}, "mark": {"type": "text", "align": "left", "baseline": "top", "fontSize": 25, "font": "Liberation Sans"},
               "encoding": {"x": {"datum": -0.264}, "y": {"datum": 5.944}, "text": {"value": "(b)"}}}
            ]
          },
          {
            "layer": [
              {"data": {"values": [{}]}, "mark": {"type": "rect", "fill": "white", "stroke": "#333", "strokeWidth": 1},
               "encoding": {
                 "x": {"datum": 0, "type": "quantitative", "scale": {"domain": [0, 1], "range": [38, 201], "nice": false, "zero": false},
                       "axis": {"orient": "bottom", "offset": -231, "values": [0,0.1,0.2,0.3,0.4,0.5,0.6,0.7,0.8,0.9,1.0],
                                "labelExpr": "(round(datum.value*10) % 2 == 0) ? format(datum.value,'.1f') : ''",
                                "tickSize": -4, "tickDash": {"condition": {"test": "round(datum.value*10) % 2 == 0", "value": []}, "value": [2, 10]},
                                "labelFontSize": 16, "labelPadding": 9, "title": "α", "titleFontSize": 18, "titlePadding": 2}},
                 "x2": {"datum": 1},
                 "y": {"datum": 0, "type": "quantitative", "scale": {"domain": [0, 3.95], "range": [112, 3], "nice": false},
                       "axis": {"orient": "left", "offset": -38, "values": [0,0.5,1,1.5,2,2.5,3,3.5],
                                "labelExpr": "(datum.value % 1 == 0) ? format(datum.value,'d') : ''",
                                "tickSize": -4, "tickDash": {"condition": {"test": "datum.value % 1 == 0", "value": []}, "value": [2, 10]},
                                "labelFontSize": 16, "labelPadding": 7, "title": "Pα(α|C)", "titleFontSize": 14, "titlePadding": 4}},
                 "y2": {"datum": 3.95}}},
              {"data": {"name": "binset"}, "mark": {"type": "line", "strokeWidth": 1.3},
               "encoding": {
                 "x": {"field": "a", "type": "quantitative"},
                 "y": {"field": "p", "type": "quantitative"},
                 "detail": {"field": "seg", "type": "nominal"},
                 "color": {"field": "C", "type": "nominal",
                           "scale": {"domain": ["C = 200","C = 400","C = 800"], "range": ["#2a8a3e","#5dbb45","#9ad6e8"]},
                           "legend": {"orient": "none", "legendX": 52, "legendY": 4, "title": null, "padding": 0,
                                      "symbolType": "M-3,0L3,0", "symbolSize": 75, "symbolStrokeWidth": 1.4, "symbolFillColor": "transparent",
                                      "labelFontSize": 11, "labelOffset": 10.7, "rowPadding": 2.8}}}},
              {"data": {"values": [{}]}, "mark": {"type": "text", "align": "right", "baseline": "middle", "fontSize": 11},
               "encoding": {"x": {"datum": 0.975}, "y": {"datum": 3.58}, "text": {"value": "Mobile phone"}}}
            ]
          }
        ]
      },
      {
        "width": 296, "height": 341,
        "layer": [
          {"data": {"values": [{}]}, "mark": {"type": "rect", "color": "#e4f2f5"},
           "encoding": {
             "x": {"datum": 0, "type": "quantitative", "scale": {"domain": [0, 4], "nice": false},
                   "axis": {"values": [0,0.5,1,1.5,2,2.5,3,3.5,4],
                            "labelExpr": "(datum.value % 1 == 0) ? format(datum.value,'d') : ''",
                            "tickDash": {"condition": {"test": "datum.value % 1 == 0", "value": []}, "value": [3, 10]},
                            "title": "x = βτ/β̄τ", "titleFontSize": 25, "titlePadding": 6}},
             "x2": {"datum": 0.643},
             "y": {"datum": 0, "type": "quantitative", "scale": {"domain": [0, 1], "nice": false},
                   "axis": {"values": [0,0.1,0.2,0.3,0.4,0.5,0.6,0.7,0.8,0.9,1.0],
                            "labelExpr": "(round(datum.value*10) % 2 == 0) ? format(datum.value,'.1f') : ''",
                            "tickDash": {"condition": {"test": "round(datum.value*10) % 2 == 0", "value": []}, "value": [3, 10]},
                            "title": "F(x)", "titleFontSize": 26, "titlePadding": 12, "labelPadding": 13}},
             "y2": {"datum": 1}}},
          {"data": {"name": "cpts"}, "mark": {"type": "point", "filled": true, "opacity": 1, "size": 70},
           "encoding": {
             "x": {"field": "x", "type": "quantitative"},
             "y": {"field": "y", "type": "quantitative"},
             "color": {"field": "d", "type": "nominal",
                       "scale": {"domain": ["Mobile phone","Email","Twitter","Message"], "range": ["#6cc14a","#f5883a","#c99bd2","#2a5aa9"]},
                       "legend": {"orient": "none", "legendX": 134, "legendY": 8, "title": null, "padding": 0, "symbolSize": 80, "labelFontSize": 20, "labelOffset": 24, "rowPadding": 5.7}},
             "shape": {"field": "d", "type": "nominal",
                       "scale": {"domain": ["Mobile phone","Email","Twitter","Message"], "range": ["diamond","circle","triangle-up","square"]},
                       "legend": {"orient": "none", "legendX": 134, "legendY": 8, "title": null, "padding": 0, "symbolSize": 80, "labelFontSize": 20, "labelOffset": 24, "rowPadding": 5.7}}}},
          {"data": {"name": "ccurve"}, "mark": {"type": "line", "color": "#111", "strokeWidth": 2, "interpolate": "monotone"},
           "encoding": {"x": {"field": "x", "type": "quantitative"}, "y": {"field": "y", "type": "quantitative"}}},
          {"data": {"name": "bracec"}, "mark": {"type": "line", "color": "#3ba7c6", "strokeWidth": 1.6, "interpolate": "monotone"},
           "encoding": {"x": {"field": "x", "type": "quantitative"}, "y": {"field": "y", "type": "quantitative"}}},
          {"data": {"values": [{}]}, "mark": {"type": "text", "align": "center", "baseline": "middle", "fontSize": 19, "color": "#3ba7c6"},
           "encoding": {"x": {"datum": 0.714}, "y": {"datum": -0.19}, "text": {"value": "Scaling Regime"}}},
          {"data": {"values": [{}]}, "mark": {"type": "text", "align": "left", "baseline": "top", "fontSize": 25, "font": "Liberation Sans"},
           "encoding": {"x": {"datum": -1.01}, "y": {"datum": 0.991}, "text": {"value": "(c)"}}}
        ]
      }
    ]
  }
]
}
